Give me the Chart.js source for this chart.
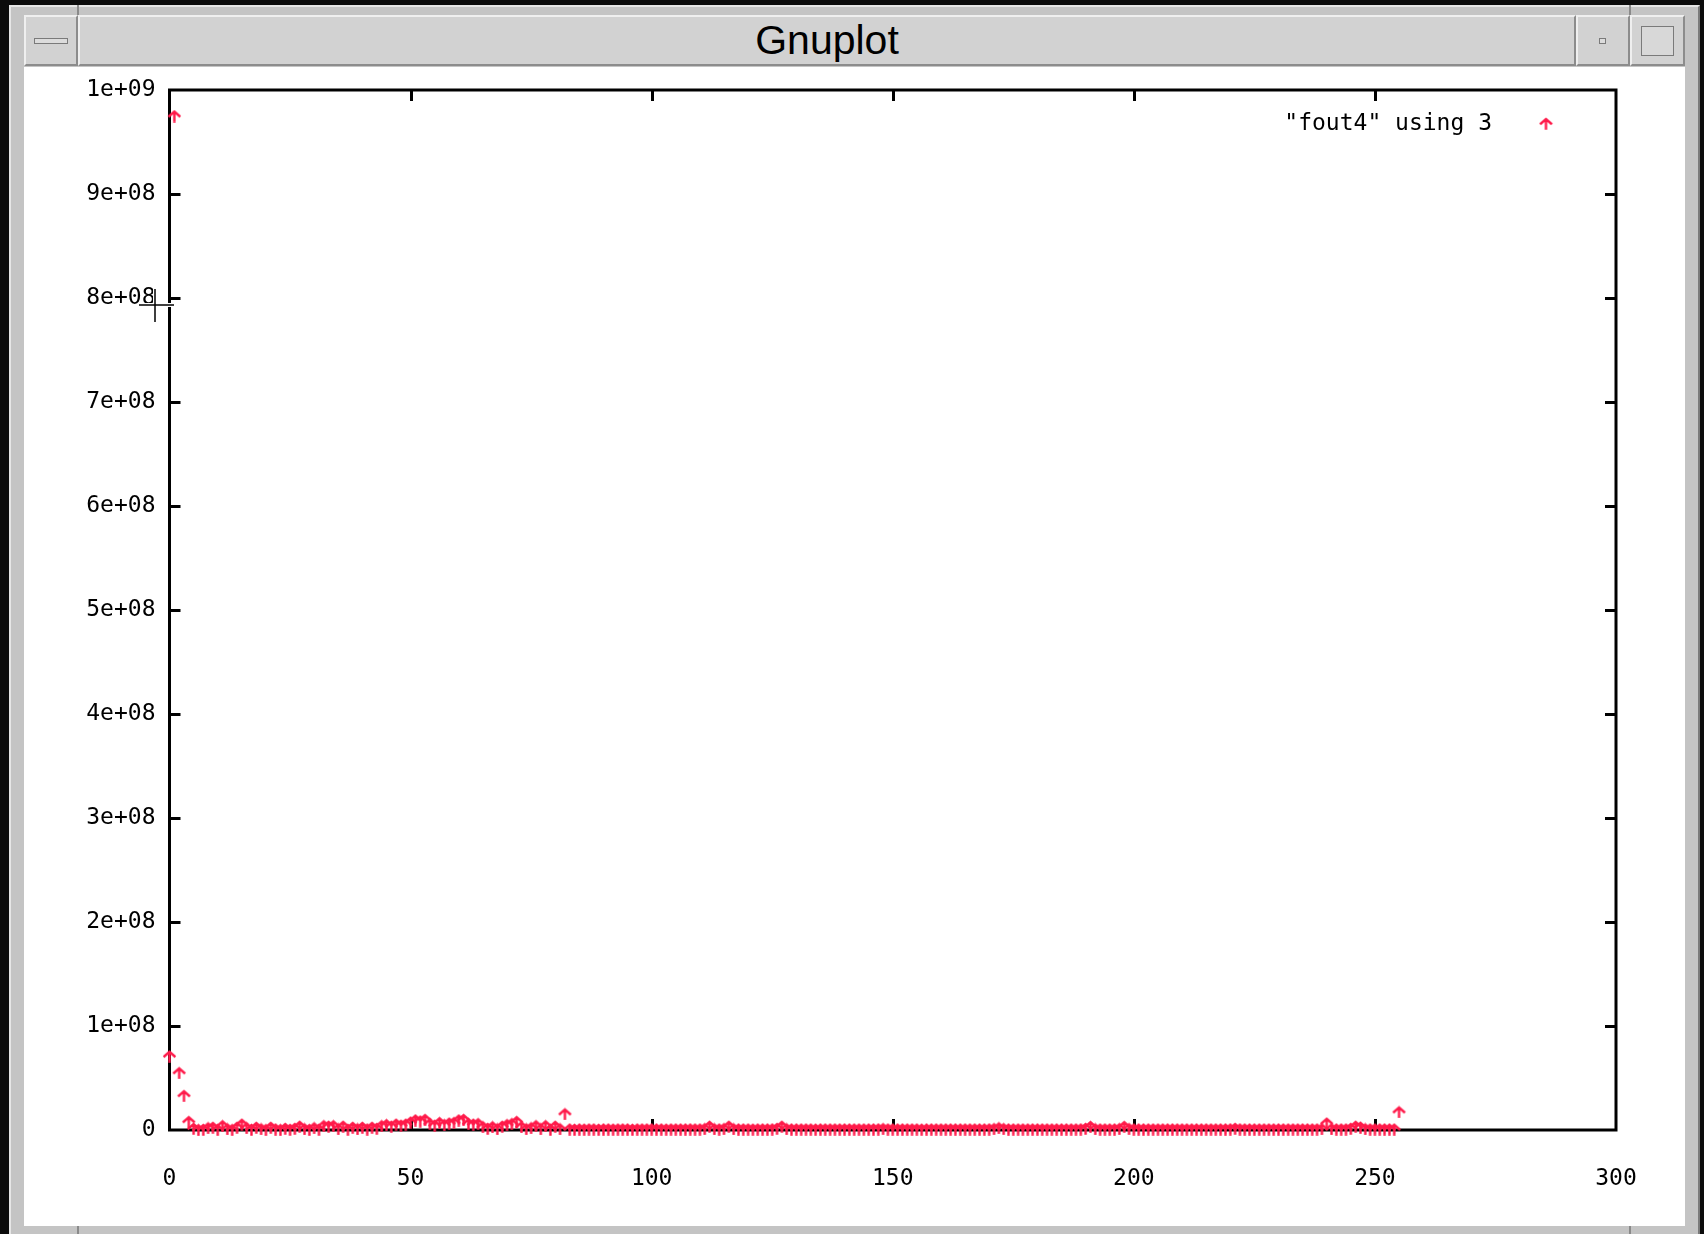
<!DOCTYPE html>
<html>
<head>
<meta charset="utf-8">
<script src="https://cdn.jsdelivr.net/npm/chart.js@4/dist/chart.umd.min.js"></script>
<style>
html,body{margin:0;padding:0;background:#0b0b0b;width:1704px;height:1234px;overflow:hidden;}
.abs{position:absolute;box-sizing:border-box;}
#frame{left:9px;top:5px;width:1691px;height:1240px;background:#c4c4c4;border-left:2px solid #e6e6e6;border-top:2px solid #e6e6e6;border-right:2px solid #7a7a7a;}
.btn{top:15px;height:51px;background:#d2d2d2;border-top:2px solid #efefef;border-left:2px solid #efefef;border-bottom:2px solid #8c8c8c;border-right:2px solid #8c8c8c;}
#title{left:78px;width:1498px;display:flex;align-items:center;justify-content:center;font-family:"Liberation Sans",Arial,sans-serif;font-size:41px;color:#000;}
#white{left:24px;top:67px;width:1661px;height:1159px;background:#fff;}
.vline{width:2px;background:#8a8a8a;}
</style>
</head>
<body>
<div id="frame" class="abs"></div>
<div class="abs vline" style="left:77px;top:5px;height:10px;"></div>
<div class="abs vline" style="left:1629px;top:5px;height:10px;"></div>
<div class="abs vline" style="left:77px;top:1226px;height:8px;"></div>
<div class="abs vline" style="left:1629px;top:1226px;height:8px;"></div>
<div class="abs btn" style="left:24px;width:54px;">
  <div class="abs" style="left:8px;top:21px;width:34px;height:6px;background:#dcdcdc;border:1px solid #7a7a7a;"></div>
</div>
<div id="title" class="abs btn">Gnuplot</div>
<div class="abs btn" style="left:1576px;width:54px;">
  <div class="abs" style="left:21px;top:21px;width:7px;height:6px;background:#dcdcdc;border:1px solid #7a7a7a;"></div>
</div>
<div class="abs btn" style="left:1630px;width:55px;">
  <div class="abs" style="left:9px;top:9px;width:33px;height:30px;background:#d8d8d8;border:1px solid #7a7a7a;"></div>
</div>
<div id="white" class="abs"></div>
<canvas id="c" width="1661" height="1159" style="position:absolute;left:24px;top:67px;"></canvas>
<script>
// ---- data ----
const seriesLabel = '"fout4" using 3';
const xTickLabels = ['0', '50', '100', '150', '200', '250', '300'];
const yTickLabels = ['0', '1e+08', '2e+08', '3e+08', '4e+08', '5e+08', '6e+08', '7e+08', '8e+08', '9e+08', '1e+09'];
const values = [
  7.1e7, 9.75e8, 5.5e7, 3.3e7, 8e6,
  1.5e6, 3e5, 5e5, 2e6, 2.5e6, 4e5, 4e6, 1e6, 3e5, 2.5e6,
  5.5e6, 2e6, 5e5, 2.5e6, 1e6, 3e5, 2.5e6, 8e5, 3e5, 1.5e6,
  5e5, 1.5e6, 3.5e6, 1e6, 4e5, 2e6, 6e5, 4e6, 3.5e6, 4e6,
  1e6, 3.5e6, 5e5, 2.5e6, 1e6, 2.5e6, 8e5, 2.5e6, 1.5e6, 4e6,
  5e6, 3.5e6, 5.5e6, 4.5e6, 5.5e6, 7.5e6, 9.5e6, 8.5e6, 1e7, 6e6,
  4.5e6, 7e6, 5e6, 6.5e6, 7e6, 9.5e6, 1e7, 6e6, 5.5e6, 6e6,
  3e6, 1.5e6, 3e6, 1e6, 3.5e6, 5e6, 6e6, 8e6, 3e6, 1e6,
  2e6, 4e6, 1e6, 4e6, 5e5, 3.5e6, 1e6, 1.55e7,
  8e5, 6e5, 8e5, 7e5, 8e5, 8e5, 6e5, 8e5, 8e5, 7e5,
  8e5, 8e5, 8e5, 6e5, 8e5, 8e5, 8e5, 9e5, 8e5, 8e5,
  7e5, 8e5, 8e5, 8e5, 8e5, 9e5, 8e5, 8e5, 1.2e6, 3.5e6,
  1e6, 8e5, 1.2e6, 3.5e6, 1e6, 8e5, 8e5, 8e5, 7e5, 8e5,
  8e5, 8e5, 9e5, 1.5e6, 3.5e6, 1e6, 8e5, 8e5, 8e5, 8e5,
  8e5, 7e5, 8e5, 8e5, 8e5, 8e5, 8e5, 8e5, 8e5, 8e5,
  8e5, 8e5, 8e5, 8e5, 9e5, 1.2e6, 8e5, 8e5, 8e5, 8e5,
  8e5, 8e5, 8e5, 7e5, 8e5, 8e5, 8e5, 8e5, 8e5, 8e5,
  8e5, 8e5, 8e5, 8e5, 8e5, 8e5, 8e5, 9e5, 1.2e6, 2e6,
  1.2e6, 8e5, 8e5, 8e5, 8e5, 8e5, 8e5, 8e5, 8e5, 8e5,
  8e5, 8e5, 8e5, 8e5, 8e5, 8e5, 9e5, 1.5e6, 3.3e6, 1e6,
  8e5, 8e5, 8e5, 8e5, 1.2e6, 3.3e6, 1.2e6, 8e5, 8e5, 8e5,
  8e5, 8e5, 8e5, 8e5, 8e5, 8e5, 8e5, 8e5, 8e5, 8e5,
  8e5, 8e5, 8e5, 8e5, 8e5, 8e5, 8e5, 9e5, 1.5e6, 9e5,
  8e5, 8e5, 8e5, 8e5, 8e5, 8e5, 8e5, 8e5, 8e5, 8e5,
  8e5, 8e5, 8e5, 8e5, 8e5, 8e5, 1e6, 6.5e6, 1e6, 8e5,
  8e5, 8e5, 1.5e6, 3.5e6, 2.6e6, 1e6, 8e5, 8e5, 8e5, 8e5,
  8e5, 8e5, 1.74e7
];
const xIndex = values.map((v, i) => i); // sample number (gnuplot "using 3" plots against row index)

// ---- styles ----
const RED = '#ff1a4a';
const MONO = '"DejaVu Sans Mono", "Liberation Mono", monospace';

// gnuplot-like point glyph
const marker = document.createElement('canvas');
marker.width = 15; marker.height = 13;
(function () {
  const m = marker.getContext('2d');
  m.strokeStyle = RED; m.lineWidth = 2.4; m.lineCap = 'square';
  m.beginPath();
  m.moveTo(2.5, 6.5); m.lineTo(7.5, 2); m.lineTo(12.5, 6.5);
  m.moveTo(7.5, 4); m.lineTo(7.5, 11.5);
  m.stroke();
})();

const gnuplotFrame = {
  id: 'gnuplotFrame',
  beforeDatasetsDraw(chart) {
    const { ctx, chartArea: a, scales: { x, y } } = chart;
    ctx.save();
    ctx.strokeStyle = '#000';
    ctx.lineWidth = 3;
    ctx.strokeRect(a.left, a.top, a.right - a.left, a.bottom - a.top);
    const L = 11;
    ctx.beginPath();
    y.ticks.forEach(t => {
      if (t.value <= y.min || t.value >= y.max) return;
      const py = Math.round(y.getPixelForValue(t.value)) + 0.5;
      ctx.moveTo(a.left, py); ctx.lineTo(a.left + L, py);
      ctx.moveTo(a.right, py); ctx.lineTo(a.right - L, py);
    });
    x.ticks.forEach(t => {
      if (t.value <= x.min || t.value >= x.max) return;
      const px = Math.round(x.getPixelForValue(t.value)) + 0.5;
      ctx.moveTo(px, a.bottom); ctx.lineTo(px, a.bottom - L);
      ctx.moveTo(px, a.top); ctx.lineTo(px, a.top + L);
    });
    ctx.stroke();
    ctx.restore();
  },
  afterDatasetsDraw(chart) {
    const { ctx, chartArea: a } = chart;
    ctx.save();
    // key
    ctx.font = '23px ' + MONO;
    ctx.fillStyle = '#000';
    ctx.textAlign = 'right';
    ctx.textBaseline = 'middle';
    const ky = a.top + 34;
    ctx.fillText(chart.data.datasets[0].label, a.right - 124, ky);
    ctx.drawImage(marker, a.right - 70 - 7.5, ky - 7);
    // mouse cursor left over the window
    const cx = 131, cy = 238;
    ctx.lineCap = 'butt';
    ctx.strokeStyle = '#fff'; ctx.lineWidth = 4;
    ctx.beginPath();
    ctx.moveTo(cx - 17, cy); ctx.lineTo(cx + 20, cy);
    ctx.moveTo(cx, cy - 17); ctx.lineTo(cx, cy + 18);
    ctx.stroke();
    ctx.strokeStyle = '#000'; ctx.lineWidth = 1.5;
    ctx.beginPath();
    ctx.moveTo(cx - 16, cy); ctx.lineTo(cx + 19, cy);
    ctx.moveTo(cx, cy - 16); ctx.lineTo(cx, cy + 17);
    ctx.stroke();
    ctx.restore();
  }
};

new Chart(document.getElementById('c'), {
  type: 'scatter',
  data: {
    datasets: [{
      label: seriesLabel,
      data: xIndex.map((xv, i) => ({ x: xv, y: values[i] })),
      pointStyle: marker,
      pointRadius: 6,
      borderColor: RED,
      backgroundColor: RED,
      clip: false
    }]
  },
  options: {
    responsive: false,
    animation: false,
    devicePixelRatio: 1,
    layout: { padding: { top: 23, right: 69, left: 0, bottom: 0 } },
    plugins: { legend: { display: false }, tooltip: { enabled: false } },
    scales: {
      x: {
        type: 'linear', min: 0, max: 300,
        grid: { display: false, drawTicks: false },
        border: { display: false },
        afterFit(s) { s.height = 96; s.paddingLeft = 0; s.paddingRight = 0; },
        ticks: {
          stepSize: 50, padding: 35, maxRotation: 0, autoSkip: false,
          color: '#000', font: { family: MONO, size: 23 },
          callback: (v, i) => xTickLabels[i]
        }
      },
      y: {
        type: 'linear', min: 0, max: 1e9,
        grid: { display: false, drawTicks: false },
        border: { display: false },
        afterFit(s) { s.width = 145.5; s.paddingTop = 0; s.paddingBottom = 0; },
        ticks: {
          stepSize: 1e8, padding: 14, autoSkip: false,
          color: '#000', font: { family: MONO, size: 23 },
          callback: (v, i) => yTickLabels[i]
        }
      }
    }
  },
  plugins: [gnuplotFrame]
});
</script>
</body>
</html>
